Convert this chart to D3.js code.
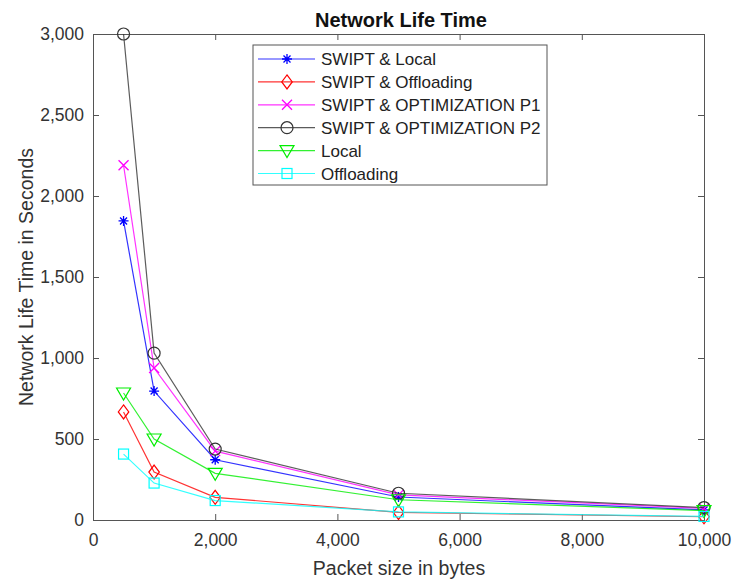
<!DOCTYPE html>
<html><head><meta charset="utf-8">
<script src="https://cdn.jsdelivr.net/npm/d3@7"></script>
<style>body{margin:0;background:#fff;} text{font-family:"Liberation Sans",Arial,sans-serif;}</style>
</head><body>
<svg id="c" width="735" height="580"></svg>
<script>
const packetSizes = [500, 1000, 2000, 5000, 10000];
const swiptLocal = [1846, 796, 372, 142, 62];
const swiptOffloading = [667, 296, 140, 47, 20];
const swiptOptP1 = [2190, 938, 425, 155, 72];
const swiptOptP2 = [3000, 1030, 438, 165, 77];
const local = [784, 500, 288, 125, 58];
const offloading = [407, 228, 120, 50, 22];
const seriesNames = ["SWIPT & Local","SWIPT & Offloading","SWIPT & OPTIMIZATION P1","SWIPT & OPTIMIZATION P2","Local","Offloading"];
const xTicks = [0, 2000, 4000, 6000, 8000, 10000];
const yTicks = [0, 500, 1000, 1500, 2000, 2500, 3000];

const series = [
  {name: seriesNames[0], values: swiptLocal, color: "#0000ff", marker: "star"},
  {name: seriesNames[1], values: swiptOffloading, color: "#ff0000", marker: "diamond"},
  {name: seriesNames[2], values: swiptOptP1, color: "#ff00ff", marker: "x"},
  {name: seriesNames[3], values: swiptOptP2, color: "#333333", marker: "circle"},
  {name: seriesNames[4], values: local, color: "#00ee00", marker: "triangle"},
  {name: seriesNames[5], values: offloading, color: "#00ffff", marker: "square"}
];

const svg = d3.select("#c");
const L = 93, R = 704, T = 34, B = 520;
const x = d3.scaleLinear().domain([0, 10000]).range([L, R]);
const y = d3.scaleLinear().domain([0, 3000]).range([B, T]);
const axisColor = "#555";
const fmt = d3.format(",");

// axes
const gx = svg.append("g").attr("transform", `translate(0,${B})`)
  .call(d3.axisBottom(x).tickValues(xTicks).tickSize(-6).tickPadding(14).tickFormat(fmt));
const gy = svg.append("g").attr("transform", `translate(${L},0)`)
  .call(d3.axisLeft(y).tickValues(yTicks).tickSize(-6).tickPadding(9).tickFormat(fmt));
const gxt = svg.append("g").attr("transform", `translate(0,${T})`)
  .call(d3.axisTop(x).tickValues(xTicks).tickSize(-6).tickFormat(""));
const gyr = svg.append("g").attr("transform", `translate(${R},0)`)
  .call(d3.axisRight(y).tickValues(yTicks).tickSize(-6).tickFormat(""));
[gx, gy, gxt, gyr].forEach(g => {
  g.select(".domain").attr("stroke", axisColor).attr("stroke-width", 1);
  g.selectAll(".tick line").attr("stroke", axisColor);
  g.selectAll("text").attr("fill", "#333").attr("font-size", 17.5).attr("font-family", "Liberation Sans, Arial, sans-serif");
});

// title & labels
svg.append("text").attr("x", 401).attr("y", 27).attr("text-anchor", "middle")
  .attr("font-size", 20).attr("font-weight", "bold").attr("fill", "#111").text("Network Life Time");
svg.append("text").attr("x", 399).attr("y", 575).attr("text-anchor", "middle")
  .attr("font-size", 19.5).attr("fill", "#333").text("Packet size in bytes");
svg.append("text").attr("transform", `translate(33,${(T + B) / 2}) rotate(-90)`).attr("text-anchor", "middle")
  .attr("font-size", 19.5).attr("fill", "#333").text("Network Life Time in Seconds");

function drawMarker(g, type, cx, cy, color) {
  const s = 5;
  if (type === "star") {
    const p = `M${cx - s},${cy}L${cx + s},${cy}M${cx},${cy - s}L${cx},${cy + s}M${cx - s * 0.7},${cy - s * 0.7}L${cx + s * 0.7},${cy + s * 0.7}M${cx - s * 0.7},${cy + s * 0.7}L${cx + s * 0.7},${cy - s * 0.7}`;
    g.append("path").attr("d", p).attr("stroke", color).attr("stroke-width", 1.3).attr("fill", "none");
  } else if (type === "x") {
    const p = `M${cx - s},${cy - s}L${cx + s},${cy + s}M${cx - s},${cy + s}L${cx + s},${cy - s}`;
    g.append("path").attr("d", p).attr("stroke", color).attr("stroke-width", 1.3).attr("fill", "none");
  } else if (type === "diamond") {
    const d = 7;
    g.append("path").attr("d", `M${cx},${cy - d}L${cx + d * 0.75},${cy}L${cx},${cy + d}L${cx - d * 0.75},${cy}Z`)
      .attr("stroke", color).attr("stroke-width", 1.2).attr("fill", "none");
  } else if (type === "circle") {
    g.append("circle").attr("cx", cx).attr("cy", cy).attr("r", 6).attr("stroke", color).attr("stroke-width", 1.2).attr("fill", "none");
  } else if (type === "triangle") {
    g.append("path").attr("d", `M${cx - 7},${cy - 5}L${cx + 7},${cy - 5}L${cx},${cy + 7}Z`)
      .attr("stroke", color).attr("stroke-width", 1.2).attr("fill", "none");
  } else if (type === "square") {
    g.append("rect").attr("x", cx - 5).attr("y", cy - 5).attr("width", 10).attr("height", 10)
      .attr("stroke", color).attr("stroke-width", 1.2).attr("fill", "none");
  }
}

const line = d3.line().x((d, i) => x(packetSizes[i])).y(d => y(d));
const plot = svg.append("g");
series.forEach(s => {
  plot.append("path").datum(s.values).attr("d", line).attr("fill", "none")
    .attr("stroke", s.color).attr("stroke-width", 1.2).attr("opacity", 0.8);
  s.values.forEach((v, i) => drawMarker(plot, s.marker, x(packetSizes[i]), y(v), s.color));
});

// legend
const lg = svg.append("g");
lg.append("rect").attr("x", 253).attr("y", 45).attr("width", 294).attr("height", 140)
  .attr("fill", "#fff").attr("stroke", "#555").attr("stroke-width", 1);
series.forEach((s, i) => {
  const ly = 59 + i * 22.9;
  lg.append("line").attr("x1", 258).attr("x2", 315).attr("y1", ly).attr("y2", ly)
    .attr("stroke", s.color).attr("stroke-width", 1.2).attr("opacity", 0.8);
  drawMarker(lg, s.marker, 287, ly, s.color);
  lg.append("text").attr("x", 321).attr("y", ly + 6).attr("font-size", 17).attr("fill", "#222").text(s.name);
});
</script>
</body></html>
